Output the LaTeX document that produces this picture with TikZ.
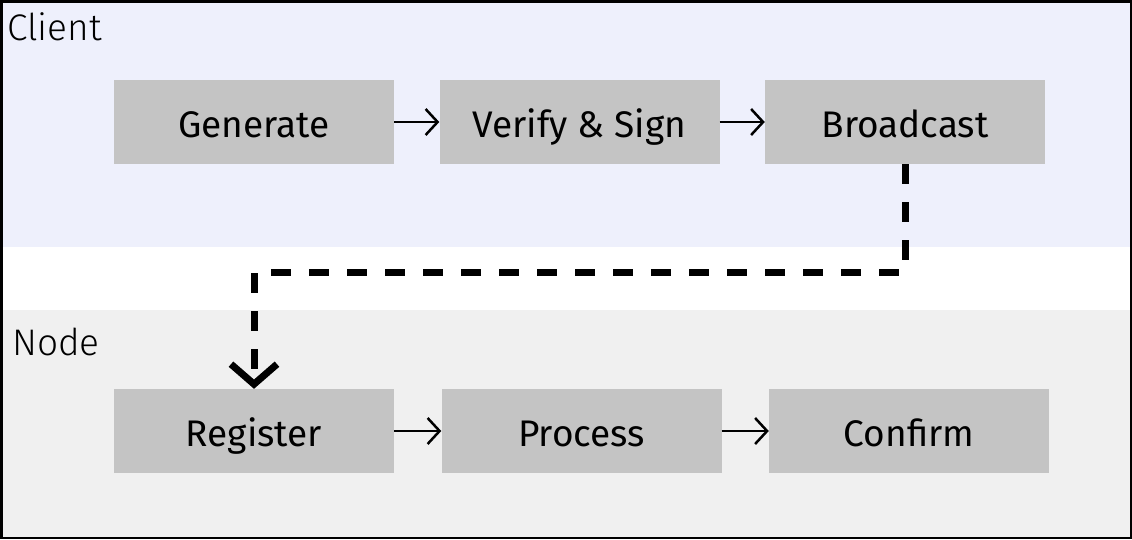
\documentclass[tikz,border=0pt]{standalone}
\usepackage{fontspec}
\setmainfont{Fira Sans}
\newfontfamily\thinfont{Fira Sans Light}
\usetikzlibrary{arrows.meta}
\definecolor{clientbg}{HTML}{EEF0FC}
\definecolor{nodebg}{HTML}{F0F0F0}
\definecolor{boxgray}{HTML}{C4C4C4}
\tikzset{
  stepbox/.style={fill=boxgray, minimum width=280pt, minimum height=84pt, inner sep=0pt,
    text height=34pt, text depth=4pt, font=\fontsize{37}{42}\selectfont},
  flow/.style={line width=2.5pt, -{Straight Barb[length=12pt,width=26pt]}},
  hop/.style={line width=7pt, dash pattern=on 20pt off 18pt,
    -{Straight Barb[length=20pt,width=46pt]}},
  lane/.style={anchor=base west, inner sep=0pt, font=\thinfont\fontsize{37}{42}\selectfont}
}
\begin{document}
\begin{tikzpicture}[x=1pt,y=-1pt]
\useasboundingbox (0,0) rectangle (1132,539);
% lanes
\fill[clientbg] (0,0) rectangle (1132,247);
\fill[nodebg] (0,310) rectangle (1132,539);
\draw[line width=2.5pt] (1.25,1.25) rectangle (1130.75,537.75);
\node[lane] (clientlbl) at (7,40) {Client};
\node[lane] (nodelbl) at (12,355) {Node};
% client side
\node[stepbox] (gen) at (254,122) {Generate};
\node[stepbox] (sign) at (579.5,122) {Verify \& Sign};
\node[stepbox] (bcast) at (905,122) {Broadcast};
% node side
\node[stepbox] (reg) at (254,431) {Register};
\node[stepbox] (proc) at (581.5,431) {Process};
\node[stepbox] (conf) at (909,431) {Confirm};
\coordinate (turn) at (0,272);
\draw[flow] (gen) -- (sign);
\draw[flow] (sign) -- (bcast);
\draw[flow] (reg) -- (proc);
\draw[flow] (proc) -- (conf);
\draw[hop] (bcast.south) -- (bcast.south |- turn) -| (reg.north);
\end{tikzpicture}
\end{document}
